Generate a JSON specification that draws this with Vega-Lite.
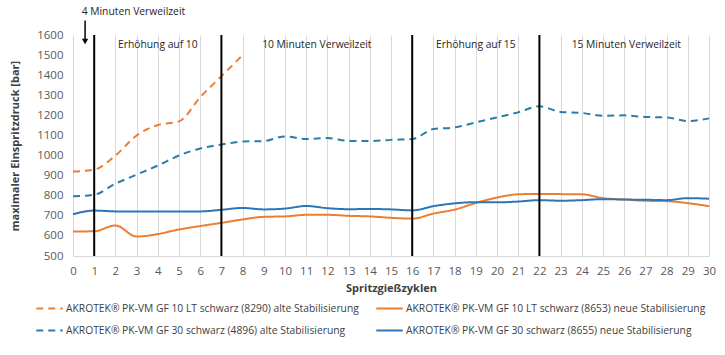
{
  "$schema": "https://vega.github.io/schema/vega-lite/v6.json",
  "width": 636,
  "height": 221,
  "autosize": {"type": "none"},
  "padding": {"left": 73, "top": 35, "right": 16, "bottom": 99},
  "background": "white",
  "config": {
    "view": {"stroke": null},
    "font": "Open Sans",
    "axis": {"labelFont": "Open Sans", "titleFont": "Open Sans", "labelOverlap": false},
    "legend": {"labelFont": "Open Sans"}
  },
  "datasets": {
    "lines": [
      {"s": "AKROTEK® PK-VM GF 10 LT schwarz (8290) alte Stabilisierung", "x": 0, "y": 920},
      {"s": "AKROTEK® PK-VM GF 10 LT schwarz (8290) alte Stabilisierung", "x": 1, "y": 930},
      {"s": "AKROTEK® PK-VM GF 10 LT schwarz (8290) alte Stabilisierung", "x": 2, "y": 1000},
      {"s": "AKROTEK® PK-VM GF 10 LT schwarz (8290) alte Stabilisierung", "x": 3, "y": 1100},
      {"s": "AKROTEK® PK-VM GF 10 LT schwarz (8290) alte Stabilisierung", "x": 4, "y": 1152},
      {"s": "AKROTEK® PK-VM GF 10 LT schwarz (8290) alte Stabilisierung", "x": 5, "y": 1170},
      {"s": "AKROTEK® PK-VM GF 10 LT schwarz (8290) alte Stabilisierung", "x": 6, "y": 1290},
      {"s": "AKROTEK® PK-VM GF 10 LT schwarz (8290) alte Stabilisierung", "x": 7, "y": 1395},
      {"s": "AKROTEK® PK-VM GF 10 LT schwarz (8290) alte Stabilisierung", "x": 8, "y": 1500},

      {"s": "AKROTEK® PK-VM GF 10 LT schwarz (8653) neue Stabilisierung", "x": 0, "y": 622},
      {"s": "AKROTEK® PK-VM GF 10 LT schwarz (8653) neue Stabilisierung", "x": 1, "y": 623},
      {"s": "AKROTEK® PK-VM GF 10 LT schwarz (8653) neue Stabilisierung", "x": 2, "y": 652},
      {"s": "AKROTEK® PK-VM GF 10 LT schwarz (8653) neue Stabilisierung", "x": 3, "y": 597},
      {"s": "AKROTEK® PK-VM GF 10 LT schwarz (8653) neue Stabilisierung", "x": 4, "y": 609},
      {"s": "AKROTEK® PK-VM GF 10 LT schwarz (8653) neue Stabilisierung", "x": 5, "y": 632},
      {"s": "AKROTEK® PK-VM GF 10 LT schwarz (8653) neue Stabilisierung", "x": 6, "y": 649},
      {"s": "AKROTEK® PK-VM GF 10 LT schwarz (8653) neue Stabilisierung", "x": 7, "y": 665},
      {"s": "AKROTEK® PK-VM GF 10 LT schwarz (8653) neue Stabilisierung", "x": 8, "y": 682},
      {"s": "AKROTEK® PK-VM GF 10 LT schwarz (8653) neue Stabilisierung", "x": 9, "y": 695},
      {"s": "AKROTEK® PK-VM GF 10 LT schwarz (8653) neue Stabilisierung", "x": 10, "y": 697},
      {"s": "AKROTEK® PK-VM GF 10 LT schwarz (8653) neue Stabilisierung", "x": 11, "y": 705},
      {"s": "AKROTEK® PK-VM GF 10 LT schwarz (8653) neue Stabilisierung", "x": 12, "y": 705},
      {"s": "AKROTEK® PK-VM GF 10 LT schwarz (8653) neue Stabilisierung", "x": 13, "y": 700},
      {"s": "AKROTEK® PK-VM GF 10 LT schwarz (8653) neue Stabilisierung", "x": 14, "y": 697},
      {"s": "AKROTEK® PK-VM GF 10 LT schwarz (8653) neue Stabilisierung", "x": 15, "y": 690},
      {"s": "AKROTEK® PK-VM GF 10 LT schwarz (8653) neue Stabilisierung", "x": 16, "y": 686},
      {"s": "AKROTEK® PK-VM GF 10 LT schwarz (8653) neue Stabilisierung", "x": 17, "y": 711},
      {"s": "AKROTEK® PK-VM GF 10 LT schwarz (8653) neue Stabilisierung", "x": 18, "y": 731},
      {"s": "AKROTEK® PK-VM GF 10 LT schwarz (8653) neue Stabilisierung", "x": 19, "y": 764},
      {"s": "AKROTEK® PK-VM GF 10 LT schwarz (8653) neue Stabilisierung", "x": 20, "y": 791},
      {"s": "AKROTEK® PK-VM GF 10 LT schwarz (8653) neue Stabilisierung", "x": 21, "y": 807},
      {"s": "AKROTEK® PK-VM GF 10 LT schwarz (8653) neue Stabilisierung", "x": 22, "y": 809},
      {"s": "AKROTEK® PK-VM GF 10 LT schwarz (8653) neue Stabilisierung", "x": 23, "y": 808},
      {"s": "AKROTEK® PK-VM GF 10 LT schwarz (8653) neue Stabilisierung", "x": 24, "y": 807},
      {"s": "AKROTEK® PK-VM GF 10 LT schwarz (8653) neue Stabilisierung", "x": 25, "y": 788},
      {"s": "AKROTEK® PK-VM GF 10 LT schwarz (8653) neue Stabilisierung", "x": 26, "y": 781},
      {"s": "AKROTEK® PK-VM GF 10 LT schwarz (8653) neue Stabilisierung", "x": 27, "y": 775},
      {"s": "AKROTEK® PK-VM GF 10 LT schwarz (8653) neue Stabilisierung", "x": 28, "y": 773},
      {"s": "AKROTEK® PK-VM GF 10 LT schwarz (8653) neue Stabilisierung", "x": 29, "y": 763},
      {"s": "AKROTEK® PK-VM GF 10 LT schwarz (8653) neue Stabilisierung", "x": 30, "y": 748},

      {"s": "AKROTEK® PK-VM GF 30 schwarz (4896) alte Stabilisierung", "x": 0, "y": 797},
      {"s": "AKROTEK® PK-VM GF 30 schwarz (4896) alte Stabilisierung", "x": 1, "y": 805},
      {"s": "AKROTEK® PK-VM GF 30 schwarz (4896) alte Stabilisierung", "x": 2, "y": 860},
      {"s": "AKROTEK® PK-VM GF 30 schwarz (4896) alte Stabilisierung", "x": 3, "y": 905},
      {"s": "AKROTEK® PK-VM GF 30 schwarz (4896) alte Stabilisierung", "x": 4, "y": 950},
      {"s": "AKROTEK® PK-VM GF 30 schwarz (4896) alte Stabilisierung", "x": 5, "y": 1000},
      {"s": "AKROTEK® PK-VM GF 30 schwarz (4896) alte Stabilisierung", "x": 6, "y": 1035},
      {"s": "AKROTEK® PK-VM GF 30 schwarz (4896) alte Stabilisierung", "x": 7, "y": 1055},
      {"s": "AKROTEK® PK-VM GF 30 schwarz (4896) alte Stabilisierung", "x": 8, "y": 1070},
      {"s": "AKROTEK® PK-VM GF 30 schwarz (4896) alte Stabilisierung", "x": 9, "y": 1072},
      {"s": "AKROTEK® PK-VM GF 30 schwarz (4896) alte Stabilisierung", "x": 10, "y": 1095},
      {"s": "AKROTEK® PK-VM GF 30 schwarz (4896) alte Stabilisierung", "x": 11, "y": 1082},
      {"s": "AKROTEK® PK-VM GF 30 schwarz (4896) alte Stabilisierung", "x": 12, "y": 1087},
      {"s": "AKROTEK® PK-VM GF 30 schwarz (4896) alte Stabilisierung", "x": 13, "y": 1073},
      {"s": "AKROTEK® PK-VM GF 30 schwarz (4896) alte Stabilisierung", "x": 14, "y": 1072},
      {"s": "AKROTEK® PK-VM GF 30 schwarz (4896) alte Stabilisierung", "x": 15, "y": 1078},
      {"s": "AKROTEK® PK-VM GF 30 schwarz (4896) alte Stabilisierung", "x": 16, "y": 1082},
      {"s": "AKROTEK® PK-VM GF 30 schwarz (4896) alte Stabilisierung", "x": 17, "y": 1132},
      {"s": "AKROTEK® PK-VM GF 30 schwarz (4896) alte Stabilisierung", "x": 18, "y": 1140},
      {"s": "AKROTEK® PK-VM GF 30 schwarz (4896) alte Stabilisierung", "x": 19, "y": 1165},
      {"s": "AKROTEK® PK-VM GF 30 schwarz (4896) alte Stabilisierung", "x": 20, "y": 1190},
      {"s": "AKROTEK® PK-VM GF 30 schwarz (4896) alte Stabilisierung", "x": 21, "y": 1215},
      {"s": "AKROTEK® PK-VM GF 30 schwarz (4896) alte Stabilisierung", "x": 22, "y": 1245},
      {"s": "AKROTEK® PK-VM GF 30 schwarz (4896) alte Stabilisierung", "x": 23, "y": 1217},
      {"s": "AKROTEK® PK-VM GF 30 schwarz (4896) alte Stabilisierung", "x": 24, "y": 1212},
      {"s": "AKROTEK® PK-VM GF 30 schwarz (4896) alte Stabilisierung", "x": 25, "y": 1198},
      {"s": "AKROTEK® PK-VM GF 30 schwarz (4896) alte Stabilisierung", "x": 26, "y": 1200},
      {"s": "AKROTEK® PK-VM GF 30 schwarz (4896) alte Stabilisierung", "x": 27, "y": 1192},
      {"s": "AKROTEK® PK-VM GF 30 schwarz (4896) alte Stabilisierung", "x": 28, "y": 1190},
      {"s": "AKROTEK® PK-VM GF 30 schwarz (4896) alte Stabilisierung", "x": 29, "y": 1172},
      {"s": "AKROTEK® PK-VM GF 30 schwarz (4896) alte Stabilisierung", "x": 30, "y": 1185},

      {"s": "AKROTEK® PK-VM GF 30 schwarz (8655) neue Stabilisierung", "x": 0, "y": 708},
      {"s": "AKROTEK® PK-VM GF 30 schwarz (8655) neue Stabilisierung", "x": 1, "y": 726},
      {"s": "AKROTEK® PK-VM GF 30 schwarz (8655) neue Stabilisierung", "x": 2, "y": 722},
      {"s": "AKROTEK® PK-VM GF 30 schwarz (8655) neue Stabilisierung", "x": 3, "y": 721},
      {"s": "AKROTEK® PK-VM GF 30 schwarz (8655) neue Stabilisierung", "x": 4, "y": 721},
      {"s": "AKROTEK® PK-VM GF 30 schwarz (8655) neue Stabilisierung", "x": 5, "y": 722},
      {"s": "AKROTEK® PK-VM GF 30 schwarz (8655) neue Stabilisierung", "x": 6, "y": 722},
      {"s": "AKROTEK® PK-VM GF 30 schwarz (8655) neue Stabilisierung", "x": 7, "y": 730},
      {"s": "AKROTEK® PK-VM GF 30 schwarz (8655) neue Stabilisierung", "x": 8, "y": 739},
      {"s": "AKROTEK® PK-VM GF 30 schwarz (8655) neue Stabilisierung", "x": 9, "y": 732},
      {"s": "AKROTEK® PK-VM GF 30 schwarz (8655) neue Stabilisierung", "x": 10, "y": 736},
      {"s": "AKROTEK® PK-VM GF 30 schwarz (8655) neue Stabilisierung", "x": 11, "y": 749},
      {"s": "AKROTEK® PK-VM GF 30 schwarz (8655) neue Stabilisierung", "x": 12, "y": 738},
      {"s": "AKROTEK® PK-VM GF 30 schwarz (8655) neue Stabilisierung", "x": 13, "y": 733},
      {"s": "AKROTEK® PK-VM GF 30 schwarz (8655) neue Stabilisierung", "x": 14, "y": 734},
      {"s": "AKROTEK® PK-VM GF 30 schwarz (8655) neue Stabilisierung", "x": 15, "y": 732},
      {"s": "AKROTEK® PK-VM GF 30 schwarz (8655) neue Stabilisierung", "x": 16, "y": 727},
      {"s": "AKROTEK® PK-VM GF 30 schwarz (8655) neue Stabilisierung", "x": 17, "y": 748},
      {"s": "AKROTEK® PK-VM GF 30 schwarz (8655) neue Stabilisierung", "x": 18, "y": 762},
      {"s": "AKROTEK® PK-VM GF 30 schwarz (8655) neue Stabilisierung", "x": 19, "y": 768},
      {"s": "AKROTEK® PK-VM GF 30 schwarz (8655) neue Stabilisierung", "x": 20, "y": 767},
      {"s": "AKROTEK® PK-VM GF 30 schwarz (8655) neue Stabilisierung", "x": 21, "y": 771},
      {"s": "AKROTEK® PK-VM GF 30 schwarz (8655) neue Stabilisierung", "x": 22, "y": 778},
      {"s": "AKROTEK® PK-VM GF 30 schwarz (8655) neue Stabilisierung", "x": 23, "y": 775},
      {"s": "AKROTEK® PK-VM GF 30 schwarz (8655) neue Stabilisierung", "x": 24, "y": 778},
      {"s": "AKROTEK® PK-VM GF 30 schwarz (8655) neue Stabilisierung", "x": 25, "y": 783},
      {"s": "AKROTEK® PK-VM GF 30 schwarz (8655) neue Stabilisierung", "x": 26, "y": 781},
      {"s": "AKROTEK® PK-VM GF 30 schwarz (8655) neue Stabilisierung", "x": 27, "y": 780},
      {"s": "AKROTEK® PK-VM GF 30 schwarz (8655) neue Stabilisierung", "x": 28, "y": 778},
      {"s": "AKROTEK® PK-VM GF 30 schwarz (8655) neue Stabilisierung", "x": 29, "y": 788},
      {"s": "AKROTEK® PK-VM GF 30 schwarz (8655) neue Stabilisierung", "x": 30, "y": 785}
    ],
    "dividers": [
      {"x": 1, "y": 500, "y2": 1600},
      {"x": 7, "y": 500, "y2": 1600},
      {"x": 16, "y": 500, "y2": 1600},
      {"x": 22, "y": 500, "y2": 1600}
    ],
    "sections": [
      {"x": 4, "y": 1550, "t": "Erhöhung auf 10"},
      {"x": 11.5, "y": 1550, "t": "10 Minuten Verweilzeit"},
      {"x": 19, "y": 1550, "t": "Erhöhung auf 15"},
      {"x": 26.1, "y": 1550, "t": "15 Minuten Verweilzeit"}
    ],
    "note": [{"x": 2.85, "y": 1712, "t": "4 Minuten Verweilzeit"}],
    "arrow": [{"x": 0.57, "y": 1672, "y2": 1572}],
    "head": [{"x": 0.57, "y": 1568}]
  },
  "encoding": {
    "x": {
      "field": "x", "type": "quantitative",
      "scale": {"domain": [0, 30], "nice": false, "zero": false},
      "axis": {
        "values": [0,1,2,3,4,5,6,7,8,9,10,11,12,13,14,15,16,17,18,19,20,21,22,23,24,25,26,27,28,29,30],
        "format": "d", "labelOverlap": false,
        "title": "Spritzgießzyklen",
        "titleFontWeight": "bold", "titleFontSize": 11, "titleColor": "#404040", "titlePadding": 6,
        "labelFontSize": 11.5, "labelColor": "#595959", "labelPadding": 9,
        "ticks": false, "grid": true, "gridColor": "#d9d9d9", "gridWidth": 1,
        "domainColor": "#d9d9d9", "labelFlush": false
      }
    },
    "y": {
      "field": "y", "type": "quantitative",
      "scale": {"domain": [500, 1600], "nice": false, "zero": false},
      "axis": {
        "values": [500,600,700,800,900,1000,1100,1200,1300,1400,1500,1600],
        "format": "d", "labelOverlap": false,
        "title": "maximaler Einspritzdruck [bar]",
        "titleFontWeight": "bold", "titleFontSize": 11, "titleColor": "#404040", "titlePadding": 16,
        "labelFontSize": 11.5, "labelColor": "#595959", "labelPadding": 10,
        "ticks": false, "grid": false, "domain": false
      }
    }
  },
  "layer": [
    {
      "data": {"name": "lines"},
      "mark": {"type": "line", "interpolate": "monotone", "strokeWidth": 2},
      "encoding": {
        "color": {
          "field": "s", "type": "nominal",
          "scale": {
            "domain": [
              "AKROTEK® PK-VM GF 10 LT schwarz (8290) alte Stabilisierung",
              "AKROTEK® PK-VM GF 30 schwarz (4896) alte Stabilisierung",
              "AKROTEK® PK-VM GF 10 LT schwarz (8653) neue Stabilisierung",
              "AKROTEK® PK-VM GF 30 schwarz (8655) neue Stabilisierung"
            ],
            "range": ["#ED7D31", "#2A7DA8", "#ED7D31", "#2E75B6"]
          },
          "legend": {
            "title": null, "orient": "none", "legendX": -38, "legendY": 259,
            "columns": 2, "columnPadding": 13, "rowPadding": 2,
            "symbolType": "stroke", "symbolSize": 700, "symbolStrokeWidth": 2,
            "labelFontSize": 10.3, "labelColor": "#404040", "labelOffset": 2, "labelLimit": 500
          }
        },
        "strokeDash": {
          "field": "s", "type": "nominal",
          "scale": {
            "domain": [
              "AKROTEK® PK-VM GF 10 LT schwarz (8290) alte Stabilisierung",
              "AKROTEK® PK-VM GF 30 schwarz (4896) alte Stabilisierung",
              "AKROTEK® PK-VM GF 10 LT schwarz (8653) neue Stabilisierung",
              "AKROTEK® PK-VM GF 30 schwarz (8655) neue Stabilisierung"
            ],
            "range": [[7, 5], [7, 5], [1, 0], [1, 0]]
          },
          "legend": {
            "title": null, "orient": "none", "legendX": -38, "legendY": 259,
            "columns": 2, "columnPadding": 13, "rowPadding": 2,
            "symbolType": "stroke", "symbolSize": 700, "symbolStrokeWidth": 2,
            "labelFontSize": 10.3, "labelColor": "#404040", "labelOffset": 2, "labelLimit": 500
          }
        }
      }
    },
    {
      "data": {"name": "dividers"},
      "mark": {"type": "rule", "color": "#000000", "strokeWidth": 2},
      "encoding": {
        "y2": {"field": "y2"}
      }
    },
    {
      "data": {"name": "sections"},
      "mark": {"type": "text", "fontSize": 10.3, "color": "#262626", "align": "center", "baseline": "middle"},
      "encoding": {
        "text": {"field": "t"}
      }
    },
    {
      "data": {"name": "note"},
      "mark": {"type": "text", "fontSize": 10.3, "color": "#262626", "align": "center", "baseline": "middle"},
      "encoding": {
        "text": {"field": "t"}
      }
    },
    {
      "data": {"name": "arrow"},
      "mark": {"type": "rule", "color": "#000000", "strokeWidth": 1.5},
      "encoding": {
        "y2": {"field": "y2"}
      }
    },
    {
      "data": {"name": "head"},
      "mark": {"type": "point", "shape": "triangle-down", "filled": true, "color": "#000000", "size": 40, "opacity": 1},
      "encoding": {}
    }
  ]
}
